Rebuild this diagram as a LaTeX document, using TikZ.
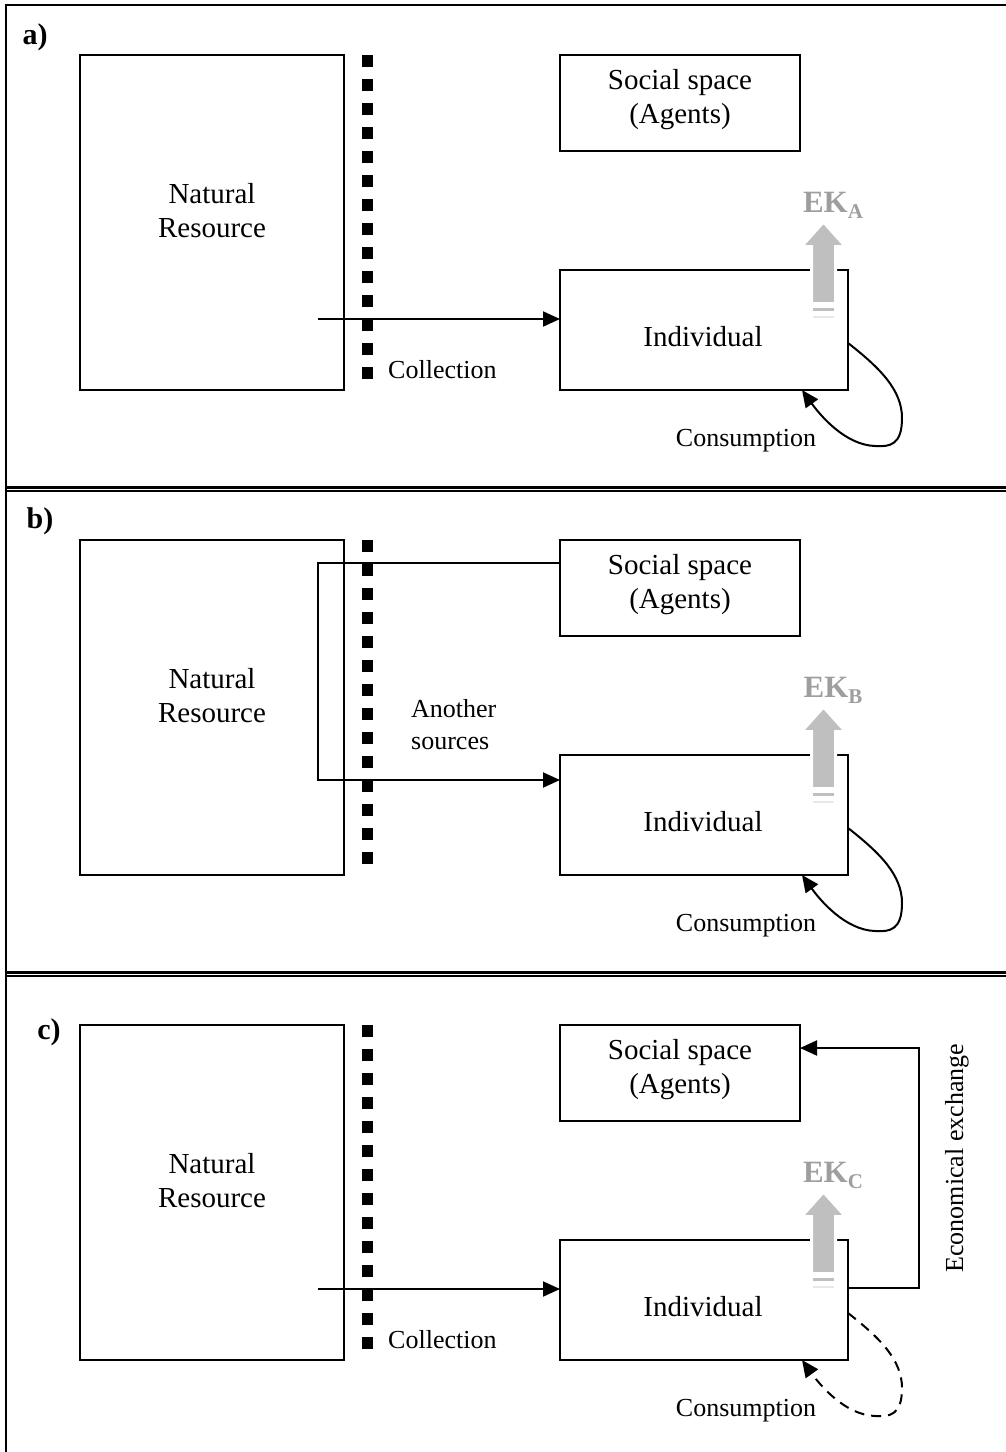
\documentclass[tikz,border=0pt]{standalone}
\usepackage{fontspec}
\setmainfont{Liberation Serif}
\usetikzlibrary{arrows.meta}

% common parts of one panel: #1 name suffix, #2 vertical offset, #3 EK index
\newcommand\panelbase[3]{%
  \begin{scope}[yshift=-#2pt]
    \node[box, minimum width=264pt, minimum height=335pt] (nr#1) at (80,55) {};
    \node[big] (nrt#1) at (212,211) {Natural\\Resource};
    \draw[fence] (367.5,55) -- (367.5,379);
    \node[box, minimum width=240pt, minimum height=96pt] (soc#1) at (560,55) {};
    \node[big] (soct#1) at (680,100) {Social space\\(Agents)};
    \node[box, minimum width=288pt, minimum height=120pt] (ind#1) at (560,270) {};
    \node[big] (indt#1) at (703,337) {Individual};
    \draw[ekarrow] (811.5,303.5) -- (811.5,246.5) -- (801.5,246.5) -- (823.5,222)
      -- (845.5,246.5) -- (835.5,246.5) -- (835.5,303.5) -- cycle;
    \fill[black!25] (813,308) rectangle (834,311);
    \fill[black!9] (813,316) rectangle (834,317.5);
    \node[ektext] (ek#1) at (833,205)
      {EK\raisebox{-6pt}{\fontsize{21}{21}\selectfont #3}};
  \end{scope}%
}

\begin{document}
\begin{tikzpicture}[x=1pt,y=-1pt,
  box/.style={draw, line width=2pt, inner sep=0pt, outer sep=0pt, anchor=north west},
  big/.style={font=\fontsize{29}{34}\selectfont, align=center},
  small/.style={font=\fontsize{26}{32}\selectfont},
  flow/.style={line width=2pt, -{Triangle[length=17pt,width=15pt]}},
  fence/.style={line width=11.7pt, dash pattern=on 12pt off 12pt},
  panellabel/.style={font=\fontsize{30}{34}\selectfont\bfseries},
  ekarrow/.style={fill=black!25, draw=white, line width=3pt},
  ektext/.style={text=black!38, font=\fontsize{31}{34}\selectfont\bfseries}
]
\useasboundingbox (0,0) rectangle (1006,1452);

% frame and panel separators
\draw[line width=2pt] (6,1452) -- (6,5) -- (1006,5);
\draw[line width=3pt] (6,487) -- (1006,487);
\draw[line width=1.2pt] (6,491) -- (1006,491);
\draw[line width=3pt] (6,972) -- (1006,972);
\draw[line width=1.2pt] (6,976) -- (1006,976);

\node[panellabel] (la) at (35,37) {a)};
\node[panellabel] (lb) at (40,521) {b)};
\node[panellabel] (lc) at (49,1032) {c)};

% ---- a) collection and self consumption
\panelbase{A}{0}{A}
\coordinate (srcA) at (318,319);
\draw[flow] (srcA) -- (srcA -| indA.west);
\node[small, anchor=west, inner sep=0pt] (colA) at (388,370) {Collection};
\draw[flow] ([yshift=-13pt]indA.east)
  .. controls (880,368) and (902,390) .. (902,418)
  .. controls (902,445) and (890,447) .. (875,446)
  .. controls (845,445) and (820,415) .. ([xshift=-46pt]indA.south east);
\node[small] (conA) at (746,441) {Consumption};

% ---- b) resources from other sources
\panelbase{B}{485}{B}
\begin{scope}[yshift=-485pt]
  \coordinate (topB) at (318,78);
  \coordinate (botB) at (318,295);
  \draw[flow] (topB -| socB.west) -- (topB) -- (botB) -- (botB -| indB.west);
  \node[small, align=left, anchor=west, inner sep=0pt] (othB) at (411,240) {Another\\sources};
  \draw[flow] ([yshift=-13pt]indB.east)
    .. controls (880,368) and (902,390) .. (902,418)
    .. controls (902,445) and (890,447) .. (875,446)
    .. controls (845,445) and (820,415) .. ([xshift=-46pt]indB.south east);
  \node[small] (conB) at (746,441) {Consumption};
\end{scope}

% ---- c) collection and economical exchange
\panelbase{C}{970}{C}
\begin{scope}[yshift=-970pt]
  \coordinate (srcC) at (318,319);
  \draw[flow] (srcC) -- (srcC -| indC.west);
  \node[small, anchor=west, inner sep=0pt] (colC) at (388,370) {Collection};
  \coordinate (lowC) at (919,318);
  \coordinate (highC) at (919,78);
  \draw[flow] (lowC -| indC.east) -- (lowC) -- (highC) -- (highC -| socC.east);
  \node[small, rotate=90] (exC) at (957,188) {Economical exchange};
  \draw[flow, dash pattern=on 10pt off 7pt] ([yshift=-13pt]indC.east)
    .. controls (880,368) and (902,390) .. (902,418)
    .. controls (902,445) and (890,447) .. (875,446)
    .. controls (845,445) and (820,415) .. ([xshift=-46pt]indC.south east);
  \node[small] (conC) at (746,441) {Consumption};
\end{scope}
\end{tikzpicture}
\end{document}
